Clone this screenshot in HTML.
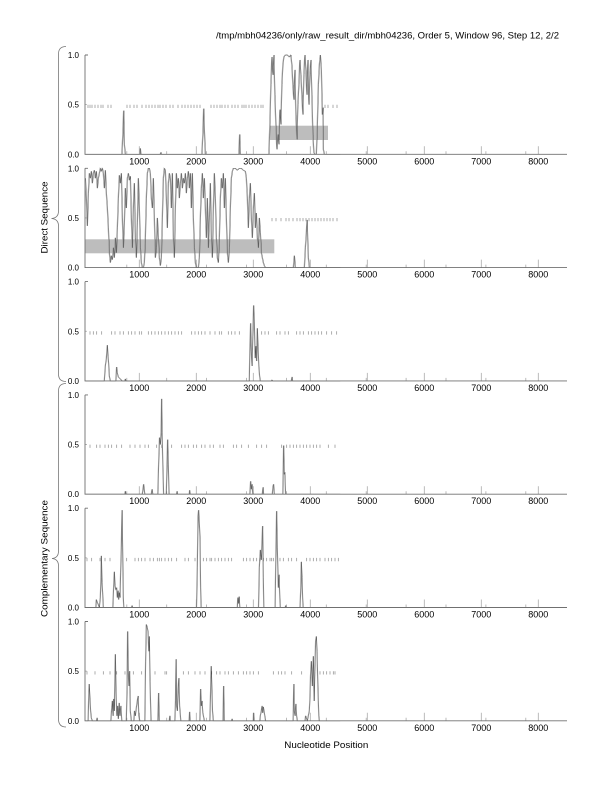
<!DOCTYPE html>
<html><head><meta charset="utf-8"><style>
html,body{margin:0;padding:0;background:#fff;}
svg{display:block;}
text{font-family:"Liberation Sans",Arial,sans-serif;fill:#000;}
.ax{stroke:#707070;stroke-width:0.9;fill:none;}
.mj{stroke:#aaa;stroke-width:0.8;fill:none;}
.mk{stroke:#8a8a8a;stroke-width:0.7;fill:none;}
.xl{font-size:9px;text-anchor:middle;}
.yl{font-size:8px;text-anchor:end;}
.g1{stroke:#9a9a9a;stroke-width:0.65;fill:none;}
.g2{stroke:#2a2a2a;stroke-width:0.35;fill:none;}
</style></head><body>
<svg width="612" height="792" viewBox="0 0 612 792" xmlns="http://www.w3.org/2000/svg">
<rect width="612" height="792" fill="#fff"/>
<defs>
<polyline id="d1" vector-effect="non-scaling-stroke" points="85,0 121.5,0 122.5,0.2 123.3,0.44 124,0.1 125,0 139.5,0 140,0.06 140.5,0 160,0 160.5,0.02 161,0 201.5,0 202.5,0.2 203.3,0.46 204,0.25 205,0 238.5,0 239.3,0.2 240,0 268.5,0 269.5,0.3 270.5,0.7 271.5,0.98 272.5,0.8 273.5,1.0 274.5,0.6 275.5,0.3 276.5,0.05 277.5,0.2 278.5,0.1 279.5,0.45 280.5,0.3 281.5,0.7 282.5,0.9 283.5,0.98 285,1.0 287,1.0 289,0.98 290.5,1.0 291.5,0.9 292.5,0.7 293.5,0.55 294.5,0.85 295.5,0.4 296.5,0.15 297.5,0.5 298.5,0.7 299.5,0.95 300.5,0.8 301.5,0.6 302.5,0.4 303.5,0.8 304.5,1.0 305.5,0.85 306.5,0.6 307.5,0.95 308.5,0.5 309.5,0.8 310.5,0.95 311.5,0.6 312.5,0.2 313.5,0.02 314.5,0 316,0 317,0.3 318,0.7 319,0.9 320,1.0 321,0.85 322,0.4 322.7,0.47 323,0.05 324,0 340,0"/>
<polyline id="d2" vector-effect="non-scaling-stroke" points="85,0.9 86,0.7 87,0.42 88,0.75 89,0.95 90,0.9 91,0.97 92,0.85 93,0.95 94,0.98 95,0.9 96,0.97 97,0.8 98,0.9 99,0.95 100,1.0 101,0.97 102,1.0 103,0.95 104,0.8 105,0.98 106,0.75 107,0.6 108,0.4 109,0.15 110,0.05 111,0.12 112,0.08 113,0.2 114,0.1 115,0.3 116,0.15 117,0.4 118,0.7 119,0.93 120,0.85 121,0.95 122,0.5 123,0.2 124,0.45 125,0.8 126,0.6 127,0.9 128,0.95 129,0.88 130,0.92 131,0.5 132,0.2 133,0.6 134,0.85 135,0.3 136,0.1 137,0.45 138,0.9 139,0.6 140,0.2 141,0.05 142,0 143,0 144,0.05 145,0.3 146,0.7 147,0.95 148,1.0 149,1.0 150,0.95 151,0.7 152,0.6 153,0.9 154,0.5 155,0.1 156,0.2 157,0.5 158,0.3 159,0.1 160,0.02 161,0.1 162,0.5 163,0.9 164,1.0 165,0.98 166,0.7 167,0.4 168,0.85 169,0.95 170,0.9 171,0.6 172,0.95 173,0.3 174,0.1 175,0.6 176,0.95 177,0.8 178,0.9 179,0.7 180,0.85 181,0.95 182,0.8 183,0.9 184,0.85 185,0.95 186,0.75 187,0.9 188,0.97 189,0.8 190,0.95 191,0.6 192,0.95 193,0.5 194,0.2 195,0.05 196,0 198,0 199,0.1 200,0.5 201,0.8 202,0.95 203,0.7 204,0.9 205,0.6 206,0.3 207,0.7 208,0.2 209,0.5 210,0.85 211,0.3 212,0.1 213,0.6 214,0.95 215,0.7 216,0.3 217,0.1 218,0.05 219,0.3 220,0.7 221,0.9 222,0.8 223,0.95 224,0.6 225,0.9 226,0.5 227,0.15 228,0.05 229,0.2 230,0.6 231,0.9 232,0.97 233,1.0 235,1.0 237,0.98 239,1.0 241,1.0 243,0.98 245,0.97 246,0.9 247,0.7 248,0.4 249,0.7 250,0.85 251,0.5 252,0.3 253,0.6 254,0.75 255,0.4 256,0.55 257,0.3 258,0.2 259,0.5 260,0.35 261,0.15 262,0.1 263,0.05 264,0.02 265,0 293,0 294,0.12 295,0 304,0 305,0.2 306,0.35 306.7,0.48 307.3,0.3 308,0.1 309,0 340,0"/>
<polyline id="d3" vector-effect="non-scaling-stroke" points="85,0 104,0 105,0.15 106,0.22 107,0.36 107.7,0.25 108.3,0.18 109,0.05 110,0 115.5,0 116.3,0.14 117,0.08 118,0.04 120,0.02 122,0 124.5,0 125,0.02 125.5,0 249,0 249.5,0.3 250.3,0.58 251,0.3 251.7,0.15 252.5,0.45 253.3,0.76 254,0.6 254.8,0.23 255.5,0.35 256.3,0.2 257,0.53 257.7,0.35 258.5,0.15 259.3,0.05 260,0 271,0 271.7,0.01 272.3,0 291,0 291.7,0.04 292.3,0 340,0"/>
<polyline id="d4" vector-effect="non-scaling-stroke" points="85,0 124.5,0 125,0.03 125.5,0 142,0 143.3,0.1 144.5,0 151,0 151.7,0.05 152.5,0 157.5,0 158.3,0.3 159.2,0.57 160,0.5 160.8,0.62 161.3,0.96 161.8,0.62 162.5,0.3 163.3,0 166,0 166.7,0.3 167.3,0.55 168,0.3 168.7,0 176.3,0 176.7,0.03 177.2,0 189,0 189.3,0.04 189.8,0 249.5,0 250.3,0.13 251,0.05 251.7,0.1 252.5,0 262,0 262.7,0.07 263.3,0 272,0 272.7,0.08 273.3,0.1 274,0 282.5,0 283.3,0.49 284,0.2 284.5,0.22 285.3,0 340,0"/>
<polyline id="d5" vector-effect="non-scaling-stroke" points="85,0 95.5,0 96,0.08 97,0.05 98,0.03 99,0 100,0.1 100.7,0.3 101,0.52 101.7,0.25 102.3,0.15 103,0 112.5,0 113.3,0.2 114,0.36 114.7,0.22 115.5,0.18 116.3,0.2 117,0.1 117.7,0.17 118.3,0.08 119,0.15 119.7,0.1 120.3,0.35 121,0.6 121.7,0.98 122.3,0.6 123,0.1 123.5,0 131.3,0 131.7,0.02 132.2,0 196.2,0 197,0.4 197.7,0.92 198.3,0.98 199,0.85 199.7,0.7 200.3,0.2 200.8,0 237,0 237.5,0.1 238.2,0.04 238.8,0.11 239.5,0 258.2,0 259,0.4 260,0.58 261,0.48 262.3,0.82 263,0.3 263.5,0 274.8,0 275.5,0.5 276.3,0.97 277,0.6 278,0.2 278.7,0.33 279.5,0.1 280,0 285,0 285.3,0.02 285.7,0 299.7,0 300.5,0.2 301,0.46 301.7,0.3 302.3,0.1 302.8,0 340,0"/>
<polyline id="d6" vector-effect="non-scaling-stroke" points="85,0 87.8,0 88.3,0.2 88.8,0.37 89.5,0.25 90.3,0.1 91,0.03 92,0 96.3,0 96.7,0.03 97.2,0 110.5,0 111.2,0.1 112,0.2 112.7,0.05 113.3,0.22 114,0.1 115,0.67 115.7,0.3 116.5,0.05 117.3,0.15 118,0.02 118.8,0.18 119.5,0.05 120.5,0.15 121.5,0 126,0 126.7,0.3 127.3,0.9 128,0.5 128.6,0.35 129.3,0.5 130,0.1 131,0 133.5,0 134.2,0.1 135,0.05 136,0.13 137,0.2 137.8,0.25 138.5,0.05 139.5,0 144.5,0 145.3,0.6 146,0.97 146.7,0.95 147.7,0.9 148.5,0.7 149,0.85 149.7,0.4 150.7,0 157.5,0 158.3,0.28 159,0 169,0 169.5,0.05 170,0 174.5,0 175.2,0.2 175.7,0.62 176.3,0.15 177,0.1 177.7,0.3 178.5,0.43 179.3,0.15 180.5,0 188.8,0 189.3,0.09 189.8,0 199.5,0 200.3,0.32 201,0.15 201.7,0.2 202.5,0.08 203.5,0.03 204,0 209.5,0 210.3,0.3 210.8,0.55 211.5,0.35 212.2,0.1 213,0 222.7,0 223.3,0.35 224,0 231.3,0 231.7,0.02 232.2,0 253,0 253.3,0.08 253.8,0 259.5,0 260,0.05 261,0.1 261.7,0.15 262.3,0.08 263,0.14 263.7,0.1 264.5,0.05 265.3,0 292.8,0 293.5,0.37 294,0.1 294.7,0.05 295.5,0.17 296.3,0.05 297,0 304.7,0 305.3,0.05 306,0.03 307,0 308,0.05 309,0.1 309.5,0.2 310.2,0.45 311,0.6 312,0.35 313,0.65 313.8,0.2 314.5,0.5 315.3,0.8 316,0.85 316.7,0.7 317.3,0.45 318,0.2 318.5,0.05 319,0 340,0"/>
<path id="axes" d="M85,55 V154.3 H567 M85,55 h3"/>
<path id="mj" d="M139.3,154.3v-8 M196.3,154.3v-8 M253.3,154.3v-8 M310.3,154.3v-8 M367.3,154.3v-8 M424.3,154.3v-8 M481.3,154.3v-8 M538.3,154.3v-8 M126.8,154.3v-3 M166.7,154.3v-3 M206.6,154.3v-3 M246.5,154.3v-3 M286.4,154.3v-3 M326.3,154.3v-3 M366.2,154.3v-3 M406.1,154.3v-3 M446,154.3v-3 M485.9,154.3v-3 M525.8,154.3v-3 M85,104.65h2"/>
</defs>

<text x="216" y="38.5" font-size="9" textLength="343" lengthAdjust="spacingAndGlyphs">/tmp/mbh04236/only/raw_result_dir/mbh04236, Order 5, Window 96, Step 12, 2/2</text>

<path d="M66,46.5 Q58.5,46.5 58.5,54 V211 Q58.5,218 51.5,218.5 Q58.5,219 58.5,226 V374 Q58.5,381.5 66,381.5" stroke="#777" stroke-width="0.8" fill="none"/>
<path d="M66,383.5 Q58.5,383.5 58.5,391 V551 Q58.5,558 52,558.5 Q58.5,559 58.5,566 V719 Q58.5,727 66,727" stroke="#777" stroke-width="0.8" fill="none"/>
<text transform="translate(47.5,217.5) rotate(-90)" text-anchor="middle" font-size="9" textLength="72" lengthAdjust="spacingAndGlyphs">Direct Sequence</text>
<text transform="translate(47.5,558.5) rotate(-90)" text-anchor="middle" font-size="9" textLength="117" lengthAdjust="spacingAndGlyphs">Complementary Sequence</text>

<text x="284.3" y="748" font-size="9" textLength="84" lengthAdjust="spacingAndGlyphs">Nucleotide Position</text>

<g>
<rect x="270" y="125.7" width="58" height="14.3" fill="#bdbdbd"/>
<use href="#mj" class="mj"/>
<path class="mk" d="M88,104.7v3.3M90,104.7v3.3M92,104.7v3.3M95,104.7v3.3M98,104.7v3.3M101,104.7v3.3M103,104.7v3.3M108,104.7v3.3M111,104.7v3.3M127,104.7v3.3M130,104.7v3.3M134,104.7v3.3M137,104.7v3.3M142,104.7v3.3M146,104.7v3.3M149,104.7v3.3M152,104.7v3.3M155,104.7v3.3M158,104.7v3.3M160,104.7v3.3M163,104.7v3.3M166,104.7v3.3M170,104.7v3.3M173,104.7v3.3M178,104.7v3.3M182,104.7v3.3M185,104.7v3.3M188,104.7v3.3M191,104.7v3.3M194,104.7v3.3M197,104.7v3.3M200,104.7v3.3M211,104.7v3.3M214,104.7v3.3M217,104.7v3.3M220,104.7v3.3M222,104.7v3.3M225,104.7v3.3M228,104.7v3.3M232,104.7v3.3M235,104.7v3.3M238,104.7v3.3M242,104.7v3.3M244,104.7v3.3M246,104.7v3.3M249,104.7v3.3M252,104.7v3.3M255,104.7v3.3M258,104.7v3.3M261,104.7v3.3M263,104.7v3.3M325,104.7v3.3M328,104.7v3.3M333,104.7v3.3M337,104.7v3.3"/>
<g transform="translate(0,154.3) scale(1,-99.3)">
<use href="#d1" class="g1"/>
<use href="#d1" class="g2" transform="translate(0.7,0)"/>
</g>
<use href="#axes" class="ax"/>
<text class="yl" x="79" y="58">1.0</text><text class="yl" x="79" y="107.7">0.5</text><text class="yl" x="79" y="157.3">0.0</text>
<text class="xl" x="139.3" y="164.3">1000</text><text class="xl" x="196.3" y="164.3">2000</text><text class="xl" x="253.3" y="164.3">3000</text><text class="xl" x="310.3" y="164.3">4000</text><text class="xl" x="367.3" y="164.3">5000</text><text class="xl" x="424.3" y="164.3">6000</text><text class="xl" x="481.3" y="164.3">7000</text><text class="xl" x="538.3" y="164.3">8000</text>
</g>

<g transform="translate(0,113.3)">
<rect x="85" y="126" width="189.3" height="14" fill="#bdbdbd"/>
<use href="#mj" class="mj"/>
<path class="mk" d="M272,104.7v3.3M276,104.7v3.3M281,104.7v3.3M286,104.7v3.3M289,104.7v3.3M293,104.7v3.3M297,104.7v3.3M300,104.7v3.3M303,104.7v3.3M306,104.7v3.3M309,104.7v3.3M312,104.7v3.3M315,104.7v3.3M318,104.7v3.3M321,104.7v3.3M324,104.7v3.3M327,104.7v3.3M330,104.7v3.3M333,104.7v3.3M337,104.7v3.3"/>
<g transform="translate(0,154.3) scale(1,-99.3)">
<use href="#d2" class="g1"/>
<use href="#d2" class="g2" transform="translate(0.7,0)"/>
</g>
<use href="#axes" class="ax"/>
<text class="yl" x="79" y="58">1.0</text><text class="yl" x="79" y="107.7">0.5</text><text class="yl" x="79" y="157.3">0.0</text>
<text class="xl" x="139.3" y="164.3">1000</text><text class="xl" x="196.3" y="164.3">2000</text><text class="xl" x="253.3" y="164.3">3000</text><text class="xl" x="310.3" y="164.3">4000</text><text class="xl" x="367.3" y="164.3">5000</text><text class="xl" x="424.3" y="164.3">6000</text><text class="xl" x="481.3" y="164.3">7000</text><text class="xl" x="538.3" y="164.3">8000</text>
</g>

<g transform="translate(0,226.6)">
<use href="#mj" class="mj"/>
<path class="mk" d="M90,104.7v3.3M93.3,104.7v3.3M96.7,104.7v3.3M101.7,104.7v3.3M111.7,104.7v3.3M115,104.7v3.3M120,104.7v3.3M123.3,104.7v3.3M128.3,104.7v3.3M131.7,104.7v3.3M135,104.7v3.3M139.3,104.7v3.3M141.7,104.7v3.3M148.3,104.7v3.3M151.7,104.7v3.3M155,104.7v3.3M158.3,104.7v3.3M161.7,104.7v3.3M165,104.7v3.3M168.3,104.7v3.3M171.7,104.7v3.3M175,104.7v3.3M178.3,104.7v3.3M181.7,104.7v3.3M191.7,104.7v3.3M195,104.7v3.3M198.3,104.7v3.3M201.7,104.7v3.3M205,104.7v3.3M210,104.7v3.3M215,104.7v3.3M219.3,104.7v3.3M221.7,104.7v3.3M228.3,104.7v3.3M231.7,104.7v3.3M235,104.7v3.3M239.3,104.7v3.3M261.7,104.7v3.3M265,104.7v3.3M268.3,104.7v3.3M276.7,104.7v3.3M280,104.7v3.3M285,104.7v3.3M288.3,104.7v3.3M296.7,104.7v3.3M300,104.7v3.3M303.3,104.7v3.3M308.3,104.7v3.3M311.7,104.7v3.3M315,104.7v3.3M318.3,104.7v3.3M321.7,104.7v3.3M326.7,104.7v3.3M331.7,104.7v3.3M336.7,104.7v3.3"/>
<g transform="translate(0,154.3) scale(1,-99.3)">
<use href="#d3" class="g1"/>
<use href="#d3" class="g2" transform="translate(0.6,0)"/>
</g>
<use href="#axes" class="ax"/>
<text class="yl" x="79" y="58">1.0</text><text class="yl" x="79" y="107.7">0.5</text><text class="yl" x="79" y="157.3">0.0</text>
<text class="xl" x="139.3" y="164.3">1000</text><text class="xl" x="196.3" y="164.3">2000</text><text class="xl" x="253.3" y="164.3">3000</text><text class="xl" x="310.3" y="164.3">4000</text><text class="xl" x="367.3" y="164.3">5000</text><text class="xl" x="424.3" y="164.3">6000</text><text class="xl" x="481.3" y="164.3">7000</text><text class="xl" x="538.3" y="164.3">8000</text>
</g>

<g transform="translate(0,339.9)">
<use href="#mj" class="mj"/>
<path class="mk" d="M90,104.7v3.3M96.7,104.7v3.3M100,104.7v3.3M105,104.7v3.3M108.3,104.7v3.3M111.7,104.7v3.3M116.7,104.7v3.3M121.7,104.7v3.3M130,104.7v3.3M135,104.7v3.3M140,104.7v3.3M145,104.7v3.3M148.3,104.7v3.3M156.7,104.7v3.3M161.7,104.7v3.3M171.7,104.7v3.3M181.7,104.7v3.3M185,104.7v3.3M188.3,104.7v3.3M193.3,104.7v3.3M196.7,104.7v3.3M201.7,104.7v3.3M205,104.7v3.3M210,104.7v3.3M213.3,104.7v3.3M220,104.7v3.3M223.3,104.7v3.3M233.3,104.7v3.3M236.7,104.7v3.3M241.7,104.7v3.3M248.3,104.7v3.3M256.7,104.7v3.3M261.7,104.7v3.3M266.7,104.7v3.3M281.7,104.7v3.3M286.7,104.7v3.3M290,104.7v3.3M293.3,104.7v3.3M296.7,104.7v3.3M300,104.7v3.3M303.3,104.7v3.3M306.7,104.7v3.3M310,104.7v3.3M313.3,104.7v3.3M316.7,104.7v3.3M320,104.7v3.3M328.3,104.7v3.3M335,104.7v3.3"/>
<g transform="translate(0,154.3) scale(1,-99.3)">
<use href="#d4" class="g1"/>
<use href="#d4" class="g2" transform="translate(0.6,0)"/>
</g>
<use href="#axes" class="ax"/>
<text class="yl" x="79" y="58">1.0</text><text class="yl" x="79" y="107.7">0.5</text><text class="yl" x="79" y="157.3">0.0</text>
<text class="xl" x="139.3" y="164.3">1000</text><text class="xl" x="196.3" y="164.3">2000</text><text class="xl" x="253.3" y="164.3">3000</text><text class="xl" x="310.3" y="164.3">4000</text><text class="xl" x="367.3" y="164.3">5000</text><text class="xl" x="424.3" y="164.3">6000</text><text class="xl" x="481.3" y="164.3">7000</text><text class="xl" x="538.3" y="164.3">8000</text>
</g>

<g transform="translate(0,453.2)">
<use href="#mj" class="mj"/>
<path class="mk" d="M87,104.7v3.3M91.7,104.7v3.3M100,104.7v3.3M105,104.7v3.3M110,104.7v3.3M126.7,104.7v3.3M135,104.7v3.3M138.3,104.7v3.3M141.7,104.7v3.3M145,104.7v3.3M150,104.7v3.3M153.3,104.7v3.3M157.3,104.7v3.3M159.3,104.7v3.3M161.7,104.7v3.3M165,104.7v3.3M168.3,104.7v3.3M171.7,104.7v3.3M176.7,104.7v3.3M185,104.7v3.3M188.3,104.7v3.3M195,104.7v3.3M203.3,104.7v3.3M206.7,104.7v3.3M210,104.7v3.3M211.7,104.7v3.3M215,104.7v3.3M218.3,104.7v3.3M221.7,104.7v3.3M225,104.7v3.3M228.3,104.7v3.3M231.7,104.7v3.3M243.3,104.7v3.3M246.7,104.7v3.3M250,104.7v3.3M253.3,104.7v3.3M256.7,104.7v3.3M260,104.7v3.3M263.3,104.7v3.3M266.7,104.7v3.3M270,104.7v3.3M271.7,104.7v3.3M273.3,104.7v3.3M280,104.7v3.3M283.3,104.7v3.3M288.3,104.7v3.3M291.7,104.7v3.3M296.7,104.7v3.3M306.7,104.7v3.3M310,104.7v3.3M313.3,104.7v3.3M316.7,104.7v3.3M320,104.7v3.3M325,104.7v3.3M328.3,104.7v3.3M331.7,104.7v3.3M335,104.7v3.3M338.3,104.7v3.3"/>
<g transform="translate(0,154.3) scale(1,-99.3)">
<use href="#d5" class="g1"/>
<use href="#d5" class="g2" transform="translate(0.6,0)"/>
</g>
<use href="#axes" class="ax"/>
<text class="yl" x="79" y="58">1.0</text><text class="yl" x="79" y="107.7">0.5</text><text class="yl" x="79" y="157.3">0.0</text>
<text class="xl" x="139.3" y="164.3">1000</text><text class="xl" x="196.3" y="164.3">2000</text><text class="xl" x="253.3" y="164.3">3000</text><text class="xl" x="310.3" y="164.3">4000</text><text class="xl" x="367.3" y="164.3">5000</text><text class="xl" x="424.3" y="164.3">6000</text><text class="xl" x="481.3" y="164.3">7000</text><text class="xl" x="538.3" y="164.3">8000</text>
</g>

<g transform="translate(0,566.5)">
<use href="#mj" class="mj"/>
<path class="mk" d="M87,104.7v3.3M95,104.7v3.3M103.3,104.7v3.3M110,104.7v3.3M116.7,104.7v3.3M125,104.7v3.3M133.3,104.7v3.3M141.7,104.7v3.3M155,104.7v3.3M165,104.7v3.3M166.7,104.7v3.3M183.3,104.7v3.3M188.3,104.7v3.3M195,104.7v3.3M200,104.7v3.3M205,104.7v3.3M211.7,104.7v3.3M216.7,104.7v3.3M220,104.7v3.3M225,104.7v3.3M228.3,104.7v3.3M233.3,104.7v3.3M238.3,104.7v3.3M243.3,104.7v3.3M246.7,104.7v3.3M250,104.7v3.3M253.3,104.7v3.3M258.3,104.7v3.3M273.3,104.7v3.3M278.3,104.7v3.3M281.7,104.7v3.3M285,104.7v3.3M291.7,104.7v3.3M301.7,104.7v3.3M320,104.7v3.3M323.3,104.7v3.3M326.7,104.7v3.3M330,104.7v3.3M333.3,104.7v3.3M335,104.7v3.3"/>
<g transform="translate(0,154.3) scale(1,-99.3)">
<use href="#d6" class="g1"/>
<use href="#d6" class="g2" transform="translate(0.6,0)"/>
</g>
<use href="#axes" class="ax"/>
<text class="yl" x="79" y="58">1.0</text><text class="yl" x="79" y="107.7">0.5</text><text class="yl" x="79" y="157.3">0.0</text>
<text class="xl" x="139.3" y="164.3">1000</text><text class="xl" x="196.3" y="164.3">2000</text><text class="xl" x="253.3" y="164.3">3000</text><text class="xl" x="310.3" y="164.3">4000</text><text class="xl" x="367.3" y="164.3">5000</text><text class="xl" x="424.3" y="164.3">6000</text><text class="xl" x="481.3" y="164.3">7000</text><text class="xl" x="538.3" y="164.3">8000</text>
</g>
</svg>
</body></html>
